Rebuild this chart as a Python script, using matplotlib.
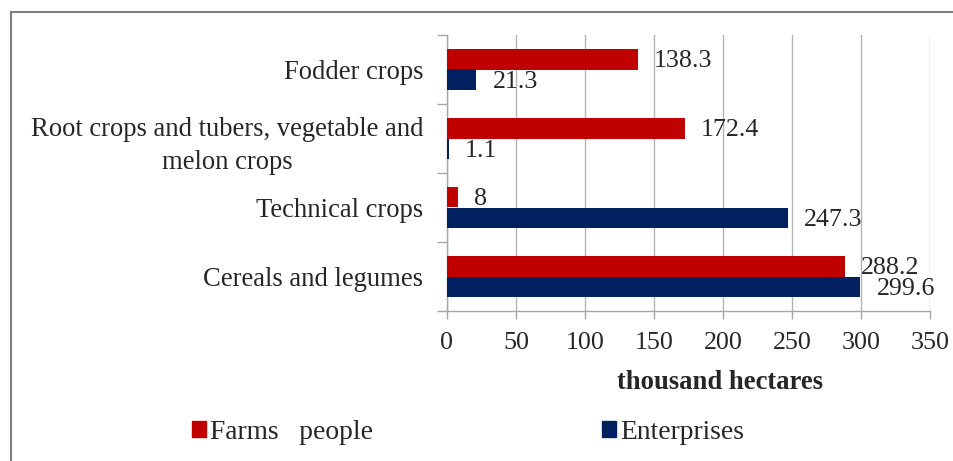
import numpy as np
import matplotlib.pyplot as plt
from matplotlib.patches import Patch
from matplotlib.lines import Line2D

plt.rcParams['font.family'] = ['Liberation Serif', 'DejaVu Serif']

# data (bottom to top, as drawn)
categories = ['Cereals and legumes', 'Technical crops',
              'Root crops and tubers, vegetable and\nmelon crops', 'Fodder crops']
farms = [288.2, 8, 172.4, 138.3]
enterprises = [299.6, 247.3, 1.1, 21.3]
xticks = [0, 50, 100, 150, 200, 250, 300, 350]

RED = '#C00000'
NAVY = '#002060'
TXT = '#262626'
W, H = 954, 461
FS = 18.7

fig = plt.figure(figsize=(W / 100, H / 100), dpi=100)
ax = fig.add_axes([447 / W, 1 - 311 / H, (930 - 447) / W, (311 - 35) / H])

y = np.arange(len(categories))
h = 0.29
ax.barh(y + h / 2, farms, height=h, color=RED, zorder=3)
ax.barh(y - h / 2, enterprises, height=h, color=NAVY, zorder=3)

# value labels
for yy, v in zip(y, farms):
    ax.annotate(f'{v:g}', (v, yy + h / 2), xytext=(16, -2), textcoords='offset pixels',
                ha='left', va='center', fontsize=FS, color=TXT)
for yy, v in zip(y, enterprises):
    ax.annotate(f'{v:g}', (v, yy - h / 2), xytext=(16, -2), textcoords='offset pixels',
                ha='left', va='center', fontsize=FS, color=TXT)

ax.set_xlim(0, 350)
ax.set_ylim(-0.5, len(categories) - 0.5)
ax.set_xticks(xticks)
ax.set_xticklabels([str(t) for t in xticks], fontsize=FS, color=TXT)
ax.tick_params(axis='x', length=6, width=1, color='#a6a6a6', pad=9)

ax.set_yticks(y)
ax.set_yticklabels(categories, fontsize=19.2, color=TXT)
for lab in ax.get_yticklabels():
    lab.set_multialignment('center')
    lab.set_linespacing(1.45)
ax.tick_params(axis='y', which='major', length=0, pad=17)
ax.set_yticks(np.arange(-0.5, len(categories)), minor=True)
ax.tick_params(axis='y', which='minor', length=7, width=1, color='#a6a6a6')

ax.grid(axis='x', color='#b3b3b3', linewidth=1, zorder=0)
for s in ['top', 'right']:
    ax.spines[s].set_visible(False)
for s in ['left', 'bottom']:
    ax.spines[s].set_color('#a6a6a6')
    ax.spines[s].set_linewidth(1)

fig.text(720 / W, 1 - 382 / H, 'thousand hectares', ha='center', va='center',
         fontsize=19.2, fontweight='bold', color=TXT)

# legend entries
for label, col, x0 in [('Farms   people', RED, 192), ('Enterprises', NAVY, 602)]:
    fig.legend(handles=[Patch(facecolor=col, edgecolor=col)], labels=[label],
               loc='center left', bbox_to_anchor=(x0 / W, 1 - 432 / H),
               frameon=False, fontsize=19.8, handlelength=0.52, handleheight=0.52,
               handletextpad=0.15, borderpad=0, borderaxespad=0, labelcolor=TXT)

# outer frame (top and left edges visible)
fig.add_artist(Line2D([11 / W, 1], [1 - 12 / H, 1 - 12 / H], color='#7f7f7f', lw=1.5))
fig.add_artist(Line2D([11 / W, 11 / W], [0, 1 - 12 / H], color='#7f7f7f', lw=1.5))

fig.savefig('out.png', dpi=100)
